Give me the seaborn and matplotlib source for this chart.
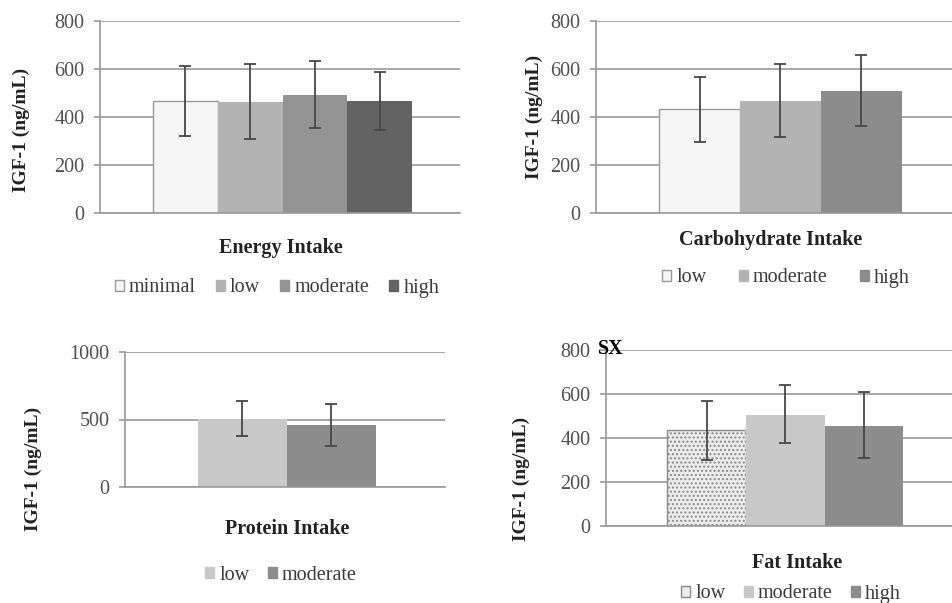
import numpy as np
import pandas as pd
import matplotlib.pyplot as plt
import matplotlib.patches as mpatches
import seaborn as sns

# data (IGF-1, ng/mL)
energy_levels = ['minimal', 'low', 'moderate', 'high']
energy_mean = [467, 461, 490, 467]
energy_upper = [612, 622, 633, 589]
energy_lower = [322, 310, 356, 347]

carb_levels = ['low', 'moderate', 'high']
carb_mean = [433, 467, 508]
carb_upper = [568, 622, 657]
carb_lower = [297, 318, 362]

protein_levels = ['low', 'moderate']
protein_mean = [502, 462]
protein_upper = [635, 615]
protein_lower = [381, 307]

fat_levels = ['low', 'moderate', 'high']
fat_mean = [436, 505, 456]
fat_upper = [567, 642, 609]
fat_lower = [301, 377, 309]

sns.set_style('white')
plt.rcParams['font.family'] = ['Liberation Serif', 'DejaVu Serif']

W, H = 952, 603
fig = plt.figure(figsize=(W / 100, H / 100), dpi=100)

GRID = '#999999'
TICK = '#505050'


def px_axes(left, top, right, bottom):
    return fig.add_axes([left / W, 1 - bottom / H, (right - left) / W, (bottom - top) / H])


def panel(ax, levels, mean, upper, lower, colors, ymax, yticks, xlim, edges):
    df = pd.DataFrame({'level': levels, 'igf': mean})
    sns.barplot(data=df, x='level', y='igf', hue='level', palette=colors,
                order=levels, hue_order=levels, width=1.0, errorbar=None,
                legend=False, ax=ax, linewidth=0, saturation=1)
    for p, ec in zip(ax.patches, edges):
        if ec is not None:
            p.set_edgecolor(ec)
            p.set_linewidth(1.0)
    mean = np.array(mean)
    yerr = [mean - np.array(lower), np.array(upper) - mean]
    ax.errorbar(np.arange(len(levels)), mean, yerr=yerr, fmt='none',
                ecolor='#474747', elinewidth=1.3, capsize=4, capthick=1.3, zorder=5)
    ax.set_ylim(0, ymax)
    ax.set_yticks(yticks)
    ax.set_xlim(*xlim)
    ax.set_xticks([])
    ax.set_xlabel('')
    ax.set_ylabel('')
    ax.yaxis.grid(True, color=GRID, linewidth=1.2)
    ax.set_axisbelow(True)
    for s in ['top', 'right']:
        ax.spines[s].set_visible(False)
    for s in ['left', 'bottom']:
        ax.spines[s].set_color(GRID)
        ax.spines[s].set_linewidth(1.2)
    ax.tick_params(axis='y', left=True, length=4, color=GRID, width=1.2,
                   labelsize=14.5, labelcolor=TICK, pad=7)


def ylab(x, y):
    fig.text(x / W, 1 - y / H, 'IGF-1 (ng/mL)', rotation=90, ha='center', va='center',
             fontsize=14, fontweight='bold', color='#222222')


def title(x, y, s):
    fig.text(x / W, 1 - y / H, s, ha='center', va='center',
             fontsize=14.5, fontweight='bold', color='#222222')


def legend(levels, colors, edges, cx, cy, spacing):
    handles = [mpatches.Patch(facecolor=c, edgecolor=(e if e else c), linewidth=1, label=l)
               for l, c, e in zip(levels, colors, edges)]
    fig.legend(handles=handles, loc='center', bbox_to_anchor=(cx / W, 1 - cy / H),
               ncol=len(levels), frameon=False, handlelength=0.45, handleheight=0.45,
               handletextpad=0.25, columnspacing=spacing, borderpad=0, borderaxespad=0,
               prop={'size': 14.5}, labelcolor='#3a3a3a')


# Energy intake
ax1 = px_axes(100, 21, 460, 213)
c1 = ['#f6f6f6', '#b3b3b3', '#939393', '#636363']
e1 = ['#999999', None, None, None]
panel(ax1, energy_levels, energy_mean, energy_upper, energy_lower, c1, 800,
      [0, 200, 400, 600, 800], (-1.32, 4.24), e1)
ylab(21, 130)
title(281, 248, 'Energy Intake')
legend(energy_levels, c1, e1, 277, 288, 1.0)

# Carbohydrate intake
ax2 = px_axes(596, 21, 952, 213)
c2 = ['#f6f6f6', '#b3b3b3', '#8c8c8c']
e2 = ['#999999', None, None]
panel(ax2, carb_levels, carb_mean, carb_upper, carb_lower, c2, 800,
      [0, 200, 400, 600, 800], (-1.28, 3.12), e2)
ylab(534, 117)
title(771, 240, 'Carbohydrate Intake')
legend(carb_levels, c2, e2, 786, 278, 1.6)

# Protein intake
ax3 = px_axes(125, 352, 445, 487)
c3 = ['#c8c8c8', '#8c8c8c']
e3 = [None, None]
panel(ax3, protein_levels, protein_mean, protein_upper, protein_lower, c3, 1000,
      [0, 500, 1000], (-1.32, 2.28), e3)
ylab(33, 469)
title(287, 529, 'Protein Intake')
legend(protein_levels, c3, e3, 281, 575, 0.9)

# Fat intake
ax4 = px_axes(606, 350, 952, 526)
c4 = ['#ececec', '#c8c8c8', '#8c8c8c']
e4 = ['#8a8a8a', None, None]
panel(ax4, fat_levels, fat_mean, fat_upper, fat_lower, c4, 800,
      [0, 200, 400, 600, 800], (-1.28, 3.12), e4)
ax4.patches[0].set_hatch('....')
ylab(521, 479)
title(797, 563, 'Fat Intake')
legend(fat_levels, c4, e4, 791, 594, 0.9)
fig.text(598 / W, 1 - 354 / H, 'SX', ha='left', va='baseline', fontsize=14.5,
         fontweight='bold', color='black')

fig.savefig('out.png', dpi=100)
